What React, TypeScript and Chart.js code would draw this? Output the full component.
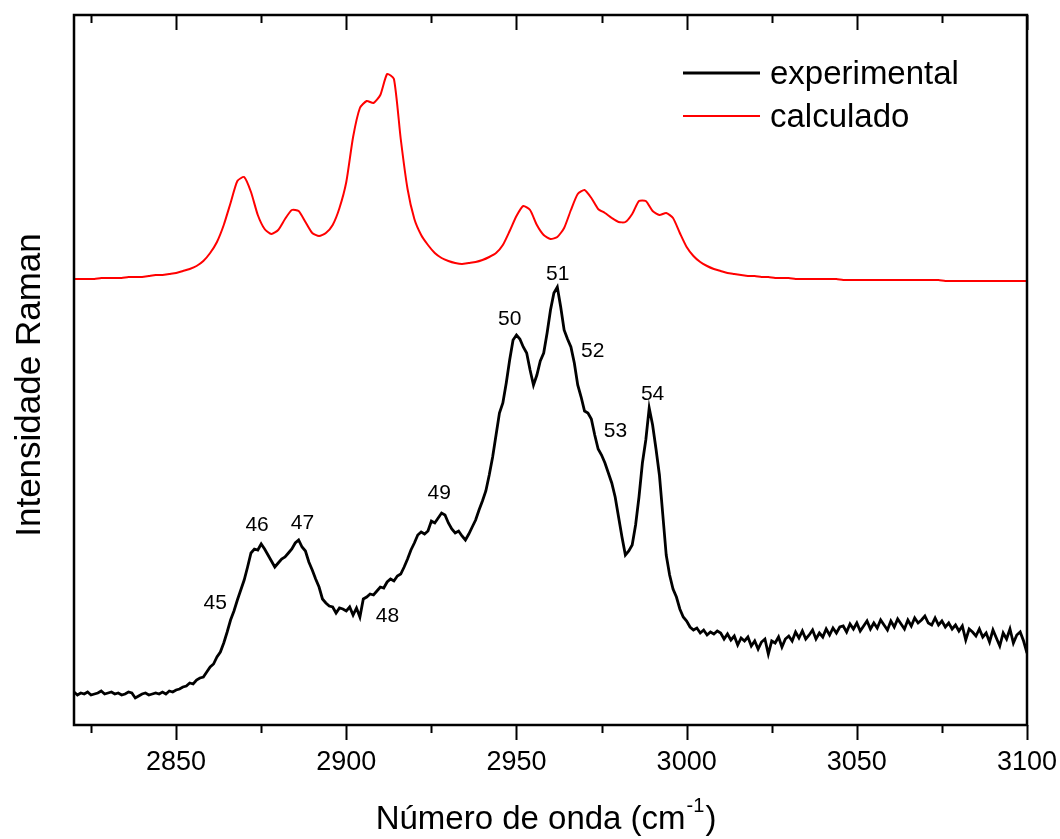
import React, { useEffect, useRef } from "react";
import { Chart, registerables } from "chart.js";

Chart.register(...registerables);

// Experimental Raman spectrum, sampled every 1 cm-1 from 2820 to 3100
const expStart = 2820;
const expStep = 1;
const experimental = [
  33, 30, 32, 31, 33, 30, 31, 32, 34, 31,
  32, 33, 31, 32, 30, 31, 33, 32, 27, 29,
  31, 32, 30, 31, 32, 31, 33, 31, 34, 33,
  35, 36, 38, 39, 42, 41, 45, 47, 48, 53,
  58, 61, 68, 73, 82, 93, 105, 114, 125, 135,
  145, 158, 172, 176, 175, 181, 176, 170, 164, 158,
  162, 166, 168, 172, 176, 182, 185, 178, 174, 163,
  155, 146, 138, 126, 122, 119, 118, 112, 117, 116,
  114, 118, 110, 117, 108, 126, 128, 131, 130, 134,
  138, 137, 143, 146, 144, 149, 151, 158, 166, 175,
  182, 190, 193, 191, 194, 204, 202, 207, 212, 210,
  202, 196, 192, 194, 189, 185, 191, 198, 205, 215,
  224, 234, 250, 268, 290, 312, 322, 342, 365, 385,
  390, 386, 378, 372, 355, 340, 350, 364, 372, 392,
  415, 432, 438, 418, 395, 386, 378, 362, 340, 328,
  314, 312, 306, 290, 276, 270, 262, 252, 242, 228,
  208, 188, 170, 174, 180, 200, 228, 262, 285, 317,
  300, 276, 250, 210, 170, 150, 136, 128, 116, 108,
  104, 98, 95, 97, 92, 95, 90, 93, 91, 94,
  92, 86, 91, 85, 89, 80, 87, 84, 88, 79,
  84, 76, 83, 86, 71, 84, 82, 88, 78, 86,
  89, 84, 93, 87, 94, 86, 90, 95, 86, 92,
  88, 96, 90, 97, 92, 98, 99, 93, 101, 96,
  102, 94, 99, 104, 96, 102, 97, 105, 100, 95,
  104, 98, 106, 101, 96, 105, 99, 107, 102, 105,
  109, 102, 100, 107, 100, 104, 98, 102, 96, 100,
  94, 99, 85, 96, 93, 89, 96, 88, 92, 83,
  95, 87, 79, 92, 86, 96, 82, 90, 93, 84,
  72,
];

// Calculated spectrum (vertically offset), sampled every 2 cm-1
const calcStart = 2820;
const calcStep = 2;
const calculated = [
  446, 446, 446, 446, 447, 447, 447, 447, 448, 448,
  448, 449, 450, 450, 451, 452, 454, 456, 459, 464,
  472, 483, 500, 522, 544, 548, 533, 510, 496, 491,
  495, 506, 515, 514, 503, 492, 489, 492, 500, 517,
  543, 588, 617, 624, 622, 630, 651, 646, 586, 536,
  506, 490, 480, 472, 467, 464, 462, 461, 462, 463,
  465, 468, 472, 480, 494, 509, 519, 515, 500, 490,
  486, 488, 497, 515, 531, 535, 527, 516, 512, 507,
  503, 503, 511, 524, 524, 514, 510, 512, 507, 492,
  478, 469, 463, 459, 456, 454, 452, 451, 450, 449,
  449, 448, 448, 447, 447, 447, 446, 446, 446, 446,
  446, 446, 446, 445, 445, 445, 445, 445, 445, 445,
  445, 445, 445, 445, 445, 445, 445, 445, 444, 444,
  444, 444, 444, 444, 444, 444, 444, 444, 444, 444,
  444,
];

// Band assignments written next to the experimental peaks
const bandLabels = ["45", "46", "47", "48", "49", "50", "51", "52", "53", "54"];
const bandX = [2861.5, 2873.8, 2887.1, 2912.1, 2927.3, 2948.0, 2962.1, 2972.4, 2979.1, 2990.0];
const bandY = [122, 200, 202, 109, 232, 406, 451, 374, 294, 331];

const majorTicks = [2850, 2900, 2950, 3000, 3050, 3100];
const minorTicks = [2825, 2875, 2925, 2975, 3025, 3075];

const seriesNames = ["experimental", "calculado"];
const seriesColors = ["#000000", "#ff0000"];

const FONT = "'Liberation Sans', Arial, sans-serif";

const toPoints = (start: number, step: number, values: number[]) =>
  values.map((v, i) => ({ x: start + i * step, y: v }));

const decorations = {
  id: "decorations",
  afterDraw(chart: any) {
    const { ctx, chartArea: a, scales } = chart;
    const xs = scales.x;
    const ys = scales.y;
    ctx.save();

    // frame
    ctx.strokeStyle = "#000";
    ctx.lineWidth = 2.5;
    ctx.strokeRect(a.left, a.top, a.right - a.left, a.bottom - a.top);

    // ticks: outward on the bottom axis, inward on the top axis
    ctx.lineWidth = 2;
    const tick = (v: number, len: number) => {
      const px = Math.round(xs.getPixelForValue(v)) + 0.5;
      ctx.beginPath();
      ctx.moveTo(px, a.bottom);
      ctx.lineTo(px, a.bottom + len);
      ctx.moveTo(px, a.top);
      ctx.lineTo(px, a.top + len);
      ctx.stroke();
    };
    majorTicks.forEach((v) => tick(v, 15));
    minorTicks.forEach((v) => tick(v, 8));

    // tick labels
    ctx.fillStyle = "#000";
    ctx.font = `27px ${FONT}`;
    ctx.textAlign = "center";
    ctx.textBaseline = "middle";
    majorTicks.forEach((v) => {
      ctx.fillText(String(v), xs.getPixelForValue(v), a.bottom + 38);
    });

    // x title with superscript
    const main = "Número de onda (cm";
    const sup = "-1";
    const close = ")";
    ctx.textBaseline = "alphabetic";
    ctx.textAlign = "left";
    ctx.font = `33px ${FONT}`;
    const w1 = ctx.measureText(main).width;
    const w3 = ctx.measureText(close).width;
    ctx.font = `20px ${FONT}`;
    const w2 = ctx.measureText(sup).width;
    const total = w1 + w2 + w3;
    const x0 = 545 - total / 2;
    const base = 829;
    ctx.font = `33px ${FONT}`;
    ctx.fillText(main, x0, base);
    ctx.font = `20px ${FONT}`;
    ctx.fillText(sup, x0 + w1 + 1, base - 17);
    ctx.font = `33px ${FONT}`;
    ctx.fillText(close, x0 + w1 + w2 + 2, base);

    // y title
    ctx.save();
    ctx.translate(30, 385);
    ctx.rotate(-Math.PI / 2);
    ctx.textAlign = "center";
    ctx.textBaseline = "middle";
    ctx.font = `35px ${FONT}`;
    ctx.fillText("Intensidade Raman", 0, 0);
    ctx.restore();

    // legend
    const legY = [73, 116];
    seriesNames.forEach((name, i) => {
      ctx.strokeStyle = seriesColors[i];
      ctx.lineWidth = i === 0 ? 2.8 : 2;
      ctx.beginPath();
      ctx.moveTo(683, legY[i]);
      ctx.lineTo(760, legY[i]);
      ctx.stroke();
      ctx.fillStyle = "#000";
      ctx.font = `33px ${FONT}`;
      ctx.textAlign = "left";
      ctx.textBaseline = "middle";
      ctx.fillText(name, 770, legY[i] + 2);
    });

    // band numbers
    ctx.font = `21px ${FONT}`;
    ctx.textAlign = "center";
    ctx.textBaseline = "middle";
    ctx.fillStyle = "#000";
    bandLabels.forEach((t, i) => {
      ctx.fillText(t, xs.getPixelForValue(bandX[i]), ys.getPixelForValue(bandY[i]));
    });

    ctx.restore();
  },
};

export default function App() {
  const canvasRef = useRef<HTMLCanvasElement | null>(null);

  useEffect(() => {
    if (!canvasRef.current) return;
    const chart = new Chart(canvasRef.current, {
      type: "line",
      data: {
        datasets: [
          {
            label: seriesNames[0],
            data: toPoints(expStart, expStep, experimental),
            borderColor: seriesColors[0],
            borderWidth: 2.8,
            pointRadius: 0,
            tension: 0,
          },
          {
            label: seriesNames[1],
            data: toPoints(calcStart, calcStep, calculated),
            borderColor: seriesColors[1],
            borderWidth: 2,
            pointRadius: 0,
            tension: 0.2,
          },
        ],
      },
      options: {
        responsive: false,
        animation: false,
        devicePixelRatio: 1,
        layout: { padding: { left: 74, right: 33, top: 15, bottom: 114 } },
        scales: {
          x: { type: "linear", min: 2820, max: 3100, display: false },
          y: { type: "linear", min: 0, max: 710, display: false },
        },
        plugins: {
          legend: { display: false },
          tooltip: { enabled: false },
        },
      },
      plugins: [decorations],
    });
    return () => chart.destroy();
  }, []);

  return (
    <div style={{ position: "fixed", left: 0, top: 0, width: 1060, height: 839, background: "#fff" }}>
      <canvas ref={canvasRef} width={1060} height={839} />
    </div>
  );
}
